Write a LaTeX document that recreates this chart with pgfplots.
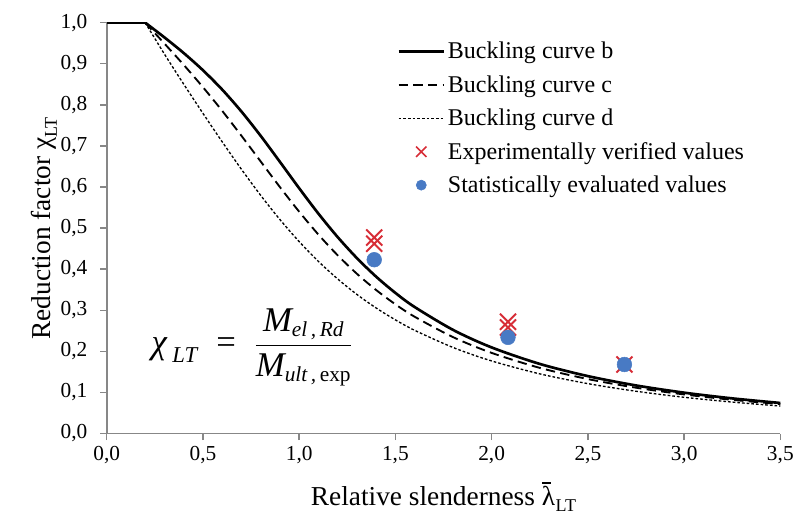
\documentclass[border=0pt]{standalone}
\usepackage{pgfplots}
\pgfplotsset{compat=1.18}
\usepackage{fontspec}
\setmainfont{Liberation Serif}
\definecolor{xred}{RGB}{215,45,55}
\definecolor{cblue}{RGB}{72,122,196}
\definecolor{axgray}{RGB}{135,135,135}

\begin{document}
\begin{tikzpicture}
\begin{axis}[
  name=ax,
  scale only axis,
  width=505pt, height=308pt,
  xmin=0, xmax=3.5, ymin=0, ymax=1,
  axis x line=bottom, axis y line=left,
  axis line style={-, axgray, line width=1.3pt},
  xtick={0,0.5,1,1.5,2,2.5,3,3.5},
  ytick={0,0.1,0.2,0.3,0.4,0.5,0.6,0.7,0.8,0.9,1},
  tick style={axgray, line width=1.1pt},
  major tick length=5pt,
  tick align=outside,
  /pgf/number format/.cd, fixed, fixed zerofill, precision=1, use comma,
    assume math mode=true,
  /pgfplots/.cd,
  tick label style={font=\fontsize{16}{19}\selectfont},
  yticklabel style={xshift=-6pt},
  xticklabel style={yshift=-1pt},
  label style={font=\fontsize{20.5}{24}\selectfont},
  ylabel={Reduction factor $\mbox{χ}_{\mbox{\fontsize{13.5}{16}\selectfont LT}}$},
  xlabel={Relative slenderness \makebox[0pt][l]{\hspace{0.5pt}\raisebox{0.8em}{\rule{0.3em}{1.2pt}}}λ\kern0.5pt\raisebox{-0.45ex}{\fontsize{13.5}{16}\selectfont LT}},
  ylabel style={yshift=-4pt},
  xlabel style={yshift=-7pt},
  legend cell align=left,
  legend style={at={(rel axis cs:0.425,0.966)}, anchor=north west,
    draw=none, fill=none, font=\fontsize{18}{21}\selectfont,
    row sep=7pt, nodes={inner sep=2pt}},
  legend image code/.code={\draw[#1] (0pt,0pt) -- (34pt,0pt);},
]
% plateau up to lambda = 0.2
\addplot[black, line width=2pt, forget plot] coordinates {(0,1) (0.2,1)};
% curve b (alpha = 0.34)
\addplot[black, line width=2pt, smooth] coordinates {
  (0.2,1.0) (0.3,0.9641) (0.4,0.9261) (0.5,0.8842) (0.6,0.8371) (0.7,0.7837)
  (0.8,0.7245) (0.9,0.6612) (1.0,0.5970) (1.1,0.5352) (1.2,0.4781)
  (1.3,0.4269) (1.4,0.3817) (1.5,0.3422) (1.6,0.3079) (1.8,0.2521)
  (2.0,0.2095) (2.25,0.1694) (2.5,0.1397) (2.75,0.1170) (3.0,0.0994)
  (3.25,0.0855) (3.5,0.0743) };
% curve c (alpha = 0.49)
\addplot[black, line width=1.4pt, dash pattern=on 7pt off 4pt, smooth] coordinates {
  (0.2,1.0) (0.3,0.9491) (0.4,0.8973) (0.5,0.8430) (0.6,0.7854) (0.7,0.7247)
  (0.8,0.6622) (0.9,0.5998) (1.0,0.5399) (1.1,0.4842) (1.2,0.4338)
  (1.3,0.3888) (1.4,0.3492) (1.5,0.3145) (1.6,0.2842) (1.8,0.2345)
  (2.0,0.1962) (2.25,0.1598) (2.5,0.1325) (2.75,0.1115) (3.0,0.0951)
  (3.25,0.0820) (3.5,0.0715) };
% curve d (alpha = 0.76)
\addplot[black, line width=1pt, dash pattern=on 2pt off 1.5pt, smooth] coordinates {
  (0.2,1.0) (0.3,0.9235) (0.4,0.8504) (0.5,0.7793) (0.6,0.7100) (0.7,0.6431)
  (0.8,0.5797) (0.9,0.5208) (1.0,0.4671) (1.1,0.4189) (1.2,0.3762)
  (1.3,0.3385) (1.4,0.3055) (1.5,0.2766) (1.6,0.2512) (1.8,0.2093)
  (2.0,0.1766) (2.25,0.1452) (2.5,0.1214) (2.75,0.1029) (3.0,0.0882)
  (3.25,0.0765) (3.5,0.0669) };
% experimental values
\addplot[only marks, mark=x, mark size=8.5pt, xred, line width=1.5pt,
  legend image code/.code={\draw[xred, line width=1.2pt] plot[mark=x, mark size=5.5pt] coordinates {(17pt,0pt)};}]
  coordinates {(1.39,0.477) (1.39,0.462) (2.085,0.272) (2.085,0.258) (2.69,0.168)};
% statistical values
\addplot[only marks, mark=*, mark size=5.5pt, cblue, mark options={draw=cblue, fill=cblue},
  legend image code/.code={\fill[cblue] (17pt,0pt) circle (3.8pt);}]
  coordinates {(1.39,0.423) (2.085,0.234) (2.69,0.168)};
\legend{Buckling curve b, Buckling curve c, Buckling curve d,
  Experimentally verified values, Statistically evaluated values}
\node at (rel axis cs:0.216,0.21) {\fontsize{26}{30}\selectfont
  $\displaystyle \mbox{\itshape χ}_{\mbox{\fontsize{17}{20}\selectfont\itshape\ LT}}
  \;\;\mbox{=}\;\;
  \frac{\mbox{\itshape M}_{\mbox{\fontsize{16}{19}\selectfont\itshape el\,,\,Rd}}}
       {\mbox{\itshape M}_{\mbox{\fontsize{16}{19}\selectfont\itshape ult\,,\,\upshape exp}}}$};
\end{axis}
% page margins as in the reference
\path ([xshift=-80pt,yshift=17pt]ax.north west) -- ([xshift=14pt,yshift=-70pt]ax.south east);
\end{tikzpicture}
\end{document}
